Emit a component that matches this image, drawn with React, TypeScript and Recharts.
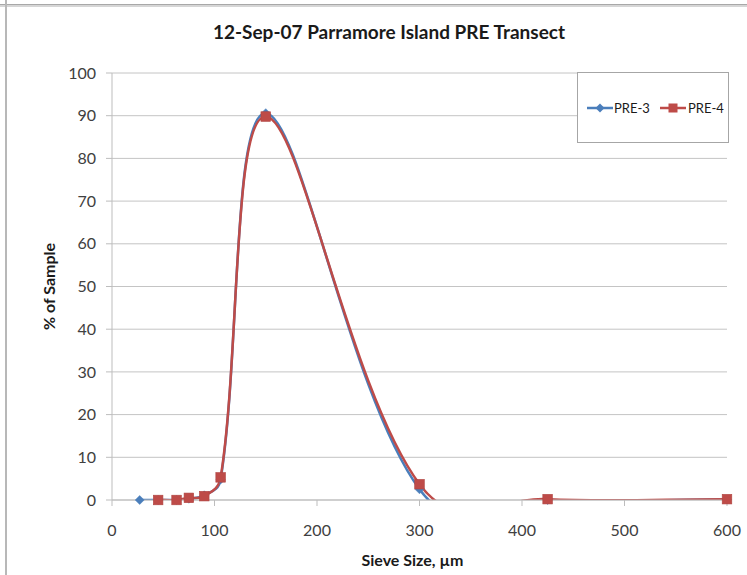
import React from 'react';
import { LineChart, Line, XAxis, YAxis, CartesianGrid, LabelList } from 'recharts';

// ---- data ----
const title = '12-Sep-07 Parramore Island PRE Transect';
const xAxisTitle = 'Sieve Size, µm';
const yAxisTitle = '% of Sample';
const seriesNames = ['PRE-3', 'PRE-4'];

const pre3Sieve = [27, 45, 63, 75, 90, 106, 150, 300, 425, 600];
const pre3Pct = [0, 0, 0, 0.3, 1.1, 4.8, 90.6, 2.5, 0, 0.1];

const pre4Sieve = [45, 63, 75, 90, 106, 150, 300, 425, 600];
const pre4Pct = [0, 0, 0.5, 0.9, 5.3, 89.8, 3.7, 0.2, 0.2];

const xTicks = [0, 100, 200, 300, 400, 500, 600];
const yTicks = [0, 10, 20, 30, 40, 50, 60, 70, 80, 90, 100];

// ---- styles ----
const BLUE = '#4A7EBB';
const RED = '#BE4B48';
const GRID = '#c4c4c4';
const AXIS = '#bdbdbd';
const TEXT = '#404040';
const FONT = 'Lato, "Open Sans", sans-serif';

const pre3Data = pre3Sieve.map((x, i) => ({ x, y: pre3Pct[i] }));
const pre4Data = pre4Sieve.map((x, i) => ({ x, y: pre4Pct[i] }));

// Excel-like smoothed curve (cardinal Bezier with segment-aware handle lengths)
function smoothCurve(context: any) {
  let pts: number[][] = [];
  return {
    areaStart() {},
    areaEnd() {},
    lineStart() {
      pts = [];
    },
    point(x: number, y: number) {
      pts.push([+x, +y]);
    },
    lineEnd() {
      const n = pts.length;
      if (n === 0) return;
      context.moveTo(pts[0][0], pts[0][1]);
      if (n === 1) return;
      const dist = (a: number[], b: number[]) => Math.hypot(b[0] - a[0], b[1] - a[1]);
      const handle = (a: number[], b: number[], seg: number, other: number) => {
        const tx = b[0] - a[0];
        const ty = b[1] - a[1];
        const tl = Math.hypot(tx, ty);
        if (tl === 0) return [0, 0];
        const chordal = seg + other > 0 ? (tl * seg) / (seg + other) / 3 : 0;
        const uniform = Math.min(tl / 6, seg * 0.5);
        const len = Math.max(chordal, uniform);
        return [(tx / tl) * len, (ty / tl) * len];
      };
      for (let i = 0; i < n - 1; i++) {
        const p0 = pts[Math.max(i - 1, 0)];
        const p1 = pts[i];
        const p2 = pts[i + 1];
        const p3 = pts[Math.min(i + 2, n - 1)];
        const d01 = dist(p0, p1);
        const d12 = dist(p1, p2);
        const d23 = dist(p2, p3);
        const h1 = handle(p0, p2, d12, d01);
        const h2 = handle(p1, p3, d12, d23);
        context.bezierCurveTo(p1[0] + h1[0], p1[1] + h1[1], p2[0] - h2[0], p2[1] - h2[1], p2[0], p2[1]);
      }
    },
  };
}

const getPos = (p: any) => {
  const vb = p.viewBox || {};
  const x = vb.x != null ? vb.x : p.x;
  const y = vb.y != null ? vb.y : p.y;
  return { x, y };
};

const DiamondMark = (p: any) => {
  const { x, y } = getPos(p);
  if (x == null || y == null) return null;
  const r = 4.5;
  return (
    <polygon
      points={`${x},${y - r} ${x + r},${y} ${x},${y + r} ${x - r},${y}`}
      fill={BLUE}
      stroke={BLUE}
      strokeWidth={0.5}
    />
  );
};

const SquareMark = (p: any) => {
  const { x, y } = getPos(p);
  if (x == null || y == null) return null;
  const s = 4.8;
  return <rect x={x - s} y={y - s} width={s * 2} height={s * 2} fill={RED} stroke="#b04542" strokeWidth={0.6} />;
};

const renderXLabel = (p: any) => {
  const vb = p.viewBox || {};
  return (
    <text
      x={vb.x + vb.width / 2 - 7}
      y={vb.y + 59}
      textAnchor="middle"
      dominantBaseline="central"
      fill="#1a1a1a"
      fontFamily={FONT}
      fontWeight={700}
      fontSize={16}
    >
      {xAxisTitle}
    </text>
  );
};

const renderYLabel = (p: any) => {
  const vb = p.viewBox || {};
  const cx = vb.x + 48;
  const cy = vb.y + vb.height / 2;
  return (
    <text
      x={cx}
      y={cy}
      transform={`rotate(-90 ${cx} ${cy})`}
      textAnchor="middle"
      dominantBaseline="central"
      fill="#1a1a1a"
      fontFamily={FONT}
      fontWeight={700}
      fontSize={16}
    >
      {yAxisTitle}
    </text>
  );
};

export default function App() {
  return (
    <div
      style={{
        position: 'absolute',
        left: 0,
        top: 0,
        width: 747,
        height: 575,
        background: '#ffffff',
        overflow: 'hidden',
        fontFamily: FONT,
      }}
    >
      {/* frame lines */}
      <div style={{ position: 'absolute', left: 0, top: 4, width: 747, height: 3, background: '#d6d6d6', borderTop: '1px solid #a8a8a8', boxSizing: 'border-box' }} />
      <div style={{ position: 'absolute', left: 5, top: 0, width: 2, height: 575, background: '#b8b8b8' }} />

      {/* title */}
      <div
        style={{
          position: 'absolute',
          left: 89,
          top: 20,
          width: 600,
          height: 24,
          lineHeight: '24px',
          textAlign: 'center',
          fontWeight: 700,
          fontSize: 19,
          color: '#1a1a1a',
        }}
      >
        {title}
      </div>

      <div style={{ position: 'absolute', left: 0, top: 0 }}>
        <LineChart width={747} height={575} margin={{ top: 73, right: 20, bottom: 0, left: 0 }}>
          <CartesianGrid horizontal={true} vertical={false} stroke={GRID} strokeWidth={1} />
          <XAxis
            type="number"
            dataKey="x"
            domain={[0, 600]}
            ticks={xTicks}
            allowDataOverflow={true}
            height={75}
            tickSize={6}
            tickMargin={19}
            axisLine={{ stroke: AXIS }}
            tickLine={{ stroke: AXIS }}
            tick={{ fill: TEXT, fontSize: 16, fontFamily: FONT }}
            label={renderXLabel}
          />
          <YAxis
            type="number"
            domain={[0, 100]}
            ticks={yTicks}
            allowDataOverflow={true}
            width={112}
            tickSize={6}
            tickMargin={10}
            axisLine={{ stroke: AXIS }}
            tickLine={{ stroke: AXIS }}
            tick={{ fill: TEXT, fontSize: 16, fontFamily: FONT }}
            label={renderYLabel}
          />
          <Line
            data={pre3Data}
            dataKey="y"
            name={seriesNames[0]}
            type={smoothCurve as any}
            stroke={BLUE}
            strokeWidth={2.5}
            dot={false}
            activeDot={false}
            isAnimationActive={false}
          >
            <LabelList dataKey="y" content={DiamondMark} />
          </Line>
          <Line
            data={pre4Data}
            dataKey="y"
            name={seriesNames[1]}
            type={smoothCurve as any}
            stroke={RED}
            strokeWidth={2.5}
            dot={false}
            activeDot={false}
            isAnimationActive={false}
          >
            <LabelList dataKey="y" content={SquareMark} />
          </Line>
        </LineChart>
      </div>

      {/* legend */}
      <div
        style={{
          position: 'absolute',
          left: 577,
          top: 72,
          width: 152,
          height: 71,
          border: '1px solid #a6a6a6',
          background: '#ffffff',
          boxSizing: 'border-box',
        }}
      >
        <svg width={150} height={69} style={{ position: 'absolute', left: 0, top: 0 }}>
          <line x1={9} x2={35} y1={35} y2={35} stroke={BLUE} strokeWidth={2.5} />
          <polygon points="22,30.5 26.5,35 22,39.5 17.5,35" fill={BLUE} />
          <text x={36} y={35} dominantBaseline="central" fontFamily={FONT} fontSize={13} fill="#1a1a1a">
            {seriesNames[0]}
          </text>
          <line x1={82} x2={108} y1={35} y2={35} stroke={RED} strokeWidth={2.5} />
          <rect x={90.5} y={30.5} width={9} height={9} fill={RED} />
          <text x={110} y={35} dominantBaseline="central" fontFamily={FONT} fontSize={13} fill="#1a1a1a">
            {seriesNames[1]}
          </text>
        </svg>
      </div>
    </div>
  );
}
